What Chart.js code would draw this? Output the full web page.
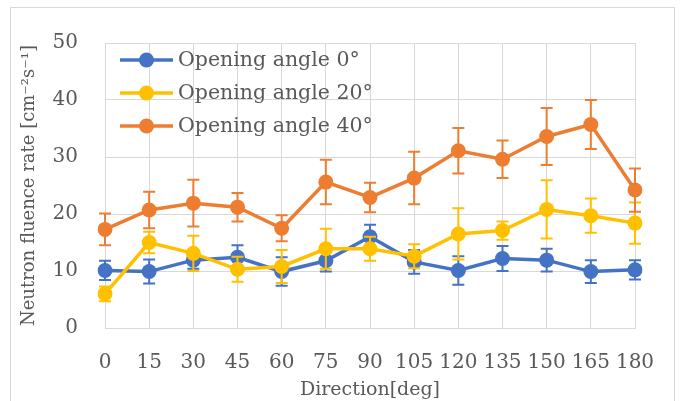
<!DOCTYPE html>
<html>
<head>
<meta charset="utf-8">
<script src="https://cdn.jsdelivr.net/npm/chart.js@4/dist/chart.umd.min.js"></script>
<style>
  body { margin: 0; background: #fff; }
  #wrap { position: relative; width: 680px; height: 401px; }
  #frame { position: absolute; left: 10px; top: 7px; width: 665px; height: 400px; border: 1px solid #d9d9d9; box-sizing: border-box; }
  #chart { position: absolute; left: 0; top: 0; }
</style>
</head>
<body>
<div id="wrap">
  <div id="frame"></div>
  <canvas id="chart" width="680" height="401"></canvas>
</div>
<script>
// Direction [deg]
const directions = ["0", "15", "30", "45", "60", "75", "90", "105", "120", "135", "150", "165", "180"];

// Neutron fluence rate per opening angle, with error bar half-widths
const angle0 = [10.1, 9.9, 11.9, 12.4, 9.9, 11.8, 16.0, 11.6, 10.1, 12.2, 11.9, 9.9, 10.2];
const angle0Err = [1.7, 2.1, 1.5, 2.1, 2.5, 1.9, 2.1, 2.1, 2.5, 2.2, 2.0, 2.0, 1.7];

const angle20 = [6.0, 15.0, 13.1, 10.3, 10.8, 13.9, 13.9, 12.6, 16.5, 17.1, 20.8, 19.7, 18.4];
const angle20Err = [1.3, 1.9, 3.1, 2.2, 2.9, 3.5, 2.1, 2.1, 4.5, 1.6, 5.1, 3.0, 3.6];

const angle40 = [17.3, 20.7, 21.9, 21.2, 17.5, 25.6, 22.9, 26.3, 31.1, 29.6, 33.6, 35.7, 24.2];
const angle40Err = [2.8, 3.2, 4.1, 2.5, 2.3, 3.9, 2.6, 4.6, 4.0, 3.3, 5.0, 4.3, 3.8];

const seriesNames = ["Opening angle 0°", "Opening angle 20°", "Opening angle 40°"];
const seriesColors = ["#4472c4", "#ffc000", "#ed7d31"];
const seriesErrors = [angle0Err, angle20Err, angle40Err];

const textColor = "#595959";
const fontFamily = "'DejaVu Serif', 'Liberation Serif', serif";

// error bars drawn from the data through the y scale
const errorBars = {
  id: "errorBars",
  afterDatasetDraw(chart, args) {
    const ctx = chart.ctx;
    const yScale = chart.scales.y;
    const ds = chart.data.datasets[args.index];
    const errs = seriesErrors[args.index];
    ctx.save();
    ctx.strokeStyle = ds.borderColor;
    ctx.lineWidth = 2;
    args.meta.data.forEach((pt, j) => {
      const v = ds.data[j];
      const top = yScale.getPixelForValue(v + errs[j]);
      const bot = yScale.getPixelForValue(v - errs[j]);
      ctx.beginPath();
      ctx.moveTo(pt.x, top);
      ctx.lineTo(pt.x, bot);
      ctx.moveTo(pt.x - 6, top);
      ctx.lineTo(pt.x + 6, top);
      ctx.moveTo(pt.x - 6, bot);
      ctx.lineTo(pt.x + 6, bot);
      ctx.stroke();
    });
    ctx.restore();
  }
};

// legend sitting inside the plot area, top left
const innerLegend = {
  id: "innerLegend",
  afterDraw(chart) {
    const ctx = chart.ctx;
    const area = chart.chartArea;
    ctx.save();
    ctx.font = "20.5px " + fontFamily;
    ctx.textBaseline = "middle";
    seriesNames.forEach((name, i) => {
      const y = area.top + 17 + i * 33;
      const x0 = area.left + 15;
      ctx.strokeStyle = seriesColors[i];
      ctx.lineWidth = 3.5;
      ctx.beginPath();
      ctx.moveTo(x0, y);
      ctx.lineTo(x0 + 53, y);
      ctx.stroke();
      ctx.fillStyle = seriesColors[i];
      ctx.beginPath();
      ctx.arc(x0 + 26.5, y, 7.5, 0, Math.PI * 2);
      ctx.fill();
      ctx.fillStyle = textColor;
      ctx.fillText(name, x0 + 58, y + 1);
    });
    ctx.restore();
  }
};

function makeDataset(i, values) {
  return {
    label: seriesNames[i],
    data: values,
    borderColor: seriesColors[i],
    backgroundColor: seriesColors[i],
    borderWidth: 3.5,
    pointRadius: 7.5,
    pointHoverRadius: 7.5,
    pointBorderWidth: 0,
    tension: 0,
    order: 3 - i
  };
}

new Chart(document.getElementById("chart"), {
  type: "line",
  data: {
    labels: directions,
    datasets: [makeDataset(0, angle0), makeDataset(1, angle20), makeDataset(2, angle40)]
  },
  options: {
    responsive: false,
    animation: false,
    events: [],
    layout: { padding: { left: 0, right: 45, top: 43, bottom: 0 } },
    plugins: {
      legend: { display: false },
      tooltip: { enabled: false }
    },
    scales: {
      x: {
        grid: { color: "#d9d9d9", lineWidth: 1, drawTicks: false },
        border: { color: "#d9d9d9", width: 1 },
        ticks: {
          color: textColor,
          font: { family: fontFamily, size: 20 },
          padding: 23,
          maxRotation: 0,
          autoSkip: false
        },
        title: {
          display: true,
          text: "Direction[deg]",
          color: textColor,
          font: { family: fontFamily, size: 19 },
          padding: { top: 17, bottom: 0 }
        },
        afterFit(scale) { scale.height = 73; }
      },
      y: {
        min: 0,
        max: 50,
        grid: { color: "#d9d9d9", lineWidth: 1, drawTicks: false },
        border: { color: "#d9d9d9", width: 1 },
        ticks: {
          stepSize: 10,
          color: textColor,
          font: { family: fontFamily, size: 20 },
          padding: 27
        },
        title: {
          display: true,
          text: "Neutron fluence rate [cm⁻²s⁻¹]",
          color: textColor,
          font: { family: fontFamily, size: 18 },
          padding: { top: 19, bottom: 0 }
        },
        afterFit(scale) { scale.width = 105; }
      }
    }
  },
  plugins: [errorBars, innerLegend]
});
</script>
</body>
</html>
